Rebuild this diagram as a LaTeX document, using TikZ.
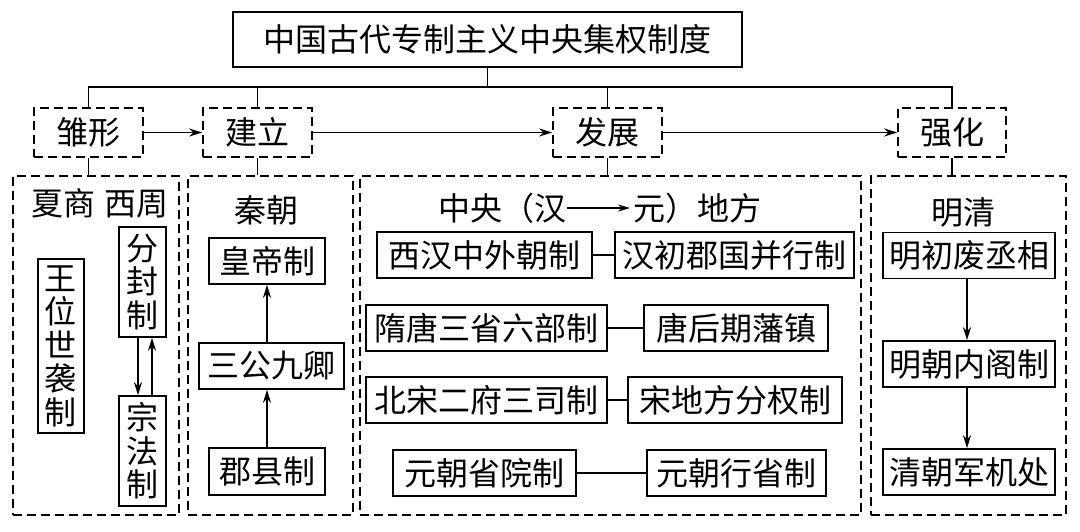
\documentclass[tikz,border=0pt]{standalone}
\usepackage{fontspec}
\newfontfamily\cjk{Noto Sans CJK SC}
\usetikzlibrary{arrows.meta}
\begin{document}
\begin{tikzpicture}[x=1pt,y=-1pt,
  every node/.style={font=\cjk\fontsize{32}{33.5}\selectfont, inner sep=0pt},
  box/.style={draw, line width=1.7pt, minimum height=46pt},
  vbox/.style={draw, line width=1.7pt, align=center, minimum width=46pt},
  dbox/.style={draw, line width=1.6pt, dash pattern=on 9pt off 5pt, minimum height=49pt},
  panel/.style={draw, line width=1.6pt, dash pattern=on 9pt off 5pt},
  conn/.style={line width=1.5pt},
  arr/.style={conn, -{Stealth[length=13pt,width=8pt]}}
]
\useasboundingbox (0,0) rectangle (1080,531);

% title
\node[box, minimum width=509pt, minimum height=55pt] (title) at (487.5,39.5) {中国古代专制主义中央集权制度};

% stages
\node[dbox, minimum width=109pt] (s1) at (88.5,132.5) {雏形};
\node[dbox, minimum width=109pt] (s2) at (257.5,132.5) {建立};
\node[dbox, minimum width=109pt] (s3) at (607.5,132.5) {发展};
\node[dbox, minimum width=108pt] (s4) at (952,132.5) {强化};

\coordinate (bus) at (487.5,87);
\draw[conn] (title.south) -- (title.south |- bus);
\draw[conn] (s1.north) -- (s1.north |- bus) -- (s4.north |- bus) -- (s4.north);
\draw[conn] (s2.north) -- (s2.north |- bus);
\draw[conn] (s3.north) -- (s3.north |- bus);

\draw[arr] (s1.east) -- (s2.west);
\draw[arr] (s2.east) -- (s3.west);
\draw[arr] (s3.east) -- (s4.west);

% panels
\node[panel, minimum width=166pt, minimum height=339pt] (p1) at (96,345.5) {};
\node[panel, minimum width=165pt, minimum height=339pt] (p2) at (270.5,345.5) {};
\node[panel, minimum width=501pt, minimum height=339pt] (p3) at (610.5,345.5) {};
\node[panel, minimum width=195pt, minimum height=339pt] (p4) at (968.5,345.5) {};

\draw[conn] (s1.south) -- (s1.south |- p1.north);
\draw[conn] (s2.south) -- (s2.south |- p2.north);
\draw[conn] (s3.south) -- (s3.south |- p3.north);
\draw[conn] (s4.south) -- (s4.south |- p4.north);

% panel 1
\node (h1) at (100,203) {夏商\hspace{10pt}西周};
\node[vbox, minimum height=174pt] (wang) at (61,346) {王\\位\\世\\袭\\制};
\node[vbox, minimum height=110pt, minimum width=47pt] (fen) at (142.5,282) {分\\封\\制};
\node[vbox, minimum height=110pt, minimum width=47pt] (zong) at (142.5,451) {宗\\法\\制};
\draw[arr] ([xshift=-4.5pt]fen.south) -- ([xshift=-4.5pt]zong.north);
\draw[arr] ([xshift=9.5pt]zong.north) -- ([xshift=9.5pt]fen.south);

% panel 2
\node (h2) at (266,210) {秦朝};
\node[box, minimum width=116pt] (huang) at (267,261) {皇帝制};
\node[box, minimum width=145pt] (sangong) at (271.5,366) {三公九卿};
\node[box, minimum width=116pt, minimum height=47pt] (jun) at (267,471.5) {郡县制};
\draw[arr] (jun.north) -- (jun.north |- sangong.south);
\draw[arr] (huang.south |- sangong.north) -- (huang.south);

% panel 3
\node[anchor=east] (h3a) at (567,208) {中央（汉};
\node[anchor=west] (h3b) at (633,208) {元）地方};
\draw[conn, -{Stealth[length=12pt,width=7pt]}, line width=1.3pt] (h3a.east) -- ([xshift=-3pt]h3b.west);

\node[box, minimum width=215pt] (r1a) at (484.5,255) {西汉中外朝制};
\node[box, minimum width=239pt] (r1b) at (734.5,255) {汉初郡国并行制};
\node[box, minimum width=241pt] (r2a) at (486.5,328) {隋唐三省六部制};
\node[box, minimum width=184pt] (r2b) at (736,328) {唐后期藩镇};
\node[box, minimum width=241pt] (r3a) at (486.5,400) {北宋二府三司制};
\node[box, minimum width=214pt] (r3b) at (735,400) {宋地方分权制};
\node[box, minimum width=183pt] (r4a) at (484.5,473) {元朝省院制};
\node[box, minimum width=179pt] (r4b) at (736.5,473) {元朝行省制};
\draw[conn] (r1a) -- (r1b);
\draw[conn] (r2a) -- (r2b);
\draw[conn] (r3a) -- (r3b);
\draw[conn] (r4a) -- (r4b);

% panel 4
\node (h4) at (963,212) {明清};
\node[box, minimum width=172pt] (m1) at (969,255.5) {明初废丞相};
\node[box, minimum width=172pt] (m2) at (969,364) {明朝内阁制};
\node[box, minimum width=172pt] (m3) at (969,472) {清朝军机处};
\draw[arr] ([xshift=-2pt]m1.south) -- ([xshift=-2pt]m2.north);
\draw[arr] ([xshift=-2pt]m2.south) -- ([xshift=-2pt]m3.north);
\end{tikzpicture}
\end{document}
